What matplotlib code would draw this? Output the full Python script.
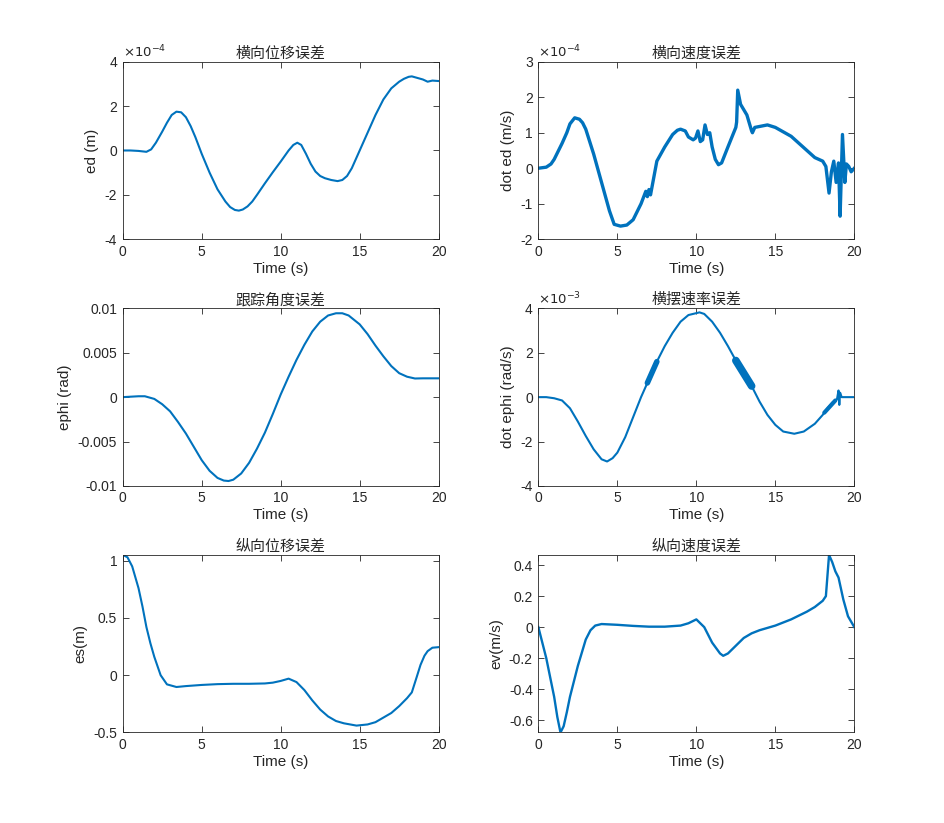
import matplotlib
matplotlib.use('Agg')
import matplotlib.pyplot as plt
import numpy as np

plt.rcParams['font.family'] = ['Liberation Sans', 'Noto Sans CJK SC', 'DejaVu Sans']
plt.rcParams['axes.unicode_minus'] = False

# ---- data ----
# 横向位移误差 ed, in units of 1e-4 m
t_ed = [0, 0.5, 1.0, 1.5, 1.8, 2.1, 2.5, 2.8, 3.1, 3.4, 3.7, 4.0, 4.3, 4.6, 5.0, 5.5, 6.0, 6.5, 6.8, 7.1,
        7.35, 7.6, 7.9, 8.2, 8.5, 9.0, 9.5, 10.0, 10.5, 10.8, 11.05, 11.3, 11.6, 11.9, 12.2, 12.5, 12.8,
        13.2, 13.6, 13.9, 14.2, 14.5, 15.0, 15.5, 16.0, 16.5, 17.0, 17.5, 17.8, 18.1, 18.3, 18.7, 19.0,
        19.3, 19.6, 20.0]
ed = [0.0, 0.0, -0.02, -0.06, 0.05, 0.35, 0.85, 1.25, 1.6, 1.75, 1.72, 1.5, 1.1, 0.6, -0.15, -1.0, -1.75,
      -2.3, -2.55, -2.68, -2.71, -2.66, -2.52, -2.3, -2.0, -1.48, -0.98, -0.5, 0.0, 0.25, 0.35, 0.25, -0.15,
      -0.6, -0.95, -1.15, -1.25, -1.33, -1.38, -1.33, -1.15, -0.8, 0.0, 0.8, 1.6, 2.3, 2.8, 3.1, 3.23, 3.32,
      3.34, 3.26, 3.2, 3.1, 3.15, 3.13]

# 横向速度误差 dot ed, in units of 1e-4 m/s
t_ded = [0, 0.5, 0.8, 1.0, 1.5, 1.8, 2.0, 2.3, 2.6, 2.8, 3.0, 3.5, 4.0, 4.5, 4.8, 5.2, 5.6, 6.0, 6.5, 6.8, 6.9,
         7.0, 7.1, 7.5, 8.0, 8.5, 8.8, 9.0, 9.3, 9.5, 9.8, 9.95, 10.1, 10.25, 10.4, 10.55, 10.7, 10.85, 11.0,
         11.2, 11.4, 11.6, 12.0, 12.5, 12.55, 12.62, 12.8, 13.2, 13.5, 13.55, 13.7, 14.5, 15.0, 16.0, 17.0,
         17.5, 18.0, 18.2, 18.4, 18.55, 18.7, 18.85, 19.0, 19.1, 19.25, 19.4, 19.5, 19.65, 19.8, 20.0]
ded = [0.0, 0.03, 0.12, 0.25, 0.7, 1.0, 1.25, 1.42, 1.38, 1.28, 1.1, 0.4, -0.4, -1.2, -1.58, -1.63, -1.6,
       -1.45, -1.0, -0.65, -0.8, -0.6, -0.75, 0.2, 0.6, 0.95, 1.07, 1.1, 1.05, 0.88, 0.8, 0.85, 1.05, 0.75, 0.8,
       1.22, 0.95, 1.0, 0.6, 0.25, 0.1, 0.15, 0.6, 1.15, 1.3, 2.2, 1.8, 1.5, 1.05, 1.0, 1.15, 1.22, 1.15, 0.9,
       0.5, 0.3, 0.2, 0.05, -0.7, -0.1, 0.2, -0.4, 0.15, -1.35, 0.95, -0.4, 0.12, 0.05, -0.1, 0.0]

# 跟踪角度误差 ephi (rad)
t_ephi = [0, 0.5, 1.0, 1.4, 2.0, 2.5, 3.0, 3.5, 4.0, 4.5, 5.0, 5.5, 6.0, 6.4, 6.7, 7.0, 7.5, 8.0, 8.5, 9.0,
          9.5, 10.0, 10.5, 11.0, 11.5, 12.0, 12.5, 13.0, 13.5, 13.9, 14.3, 15.0, 15.5, 16.0, 16.5, 17.0,
          17.5, 18.0, 18.5, 19.0, 20.0]
ephi = [0.0, 0.00005, 0.0001, 0.0001, -0.0002, -0.0008, -0.0016, -0.0028, -0.0041, -0.0056, -0.0071, -0.0083,
        -0.0091, -0.0094, -0.00945, -0.0093, -0.0086, -0.0074, -0.0058, -0.004,
        -0.0019, 0.0003, 0.0023, 0.0042, 0.0059, 0.0074, 0.0085, 0.0092, 0.00945, 0.00945, 0.0092, 0.0082,
        0.0071, 0.0058, 0.0046, 0.0035, 0.0027, 0.0023, 0.0021, 0.00212, 0.00212]

# 横摆速率误差 dot ephi, in units of 1e-3 rad/s
t_dephi = [0, 0.5, 1.0, 1.5, 2.0, 2.5, 3.0, 3.5, 4.0, 4.35, 4.7, 5.0, 5.5, 6.0, 6.5, 7.0, 7.5, 8.0, 8.5,
           9.0, 9.5, 10.2, 10.5, 11.0, 11.5, 12.0, 12.5, 13.0, 13.5, 14.0, 14.5, 15.0, 15.5, 16.2, 16.8,
           17.5, 18.0, 18.3, 18.6, 18.9, 19.0, 19.05, 19.1, 19.2, 19.5, 20.0]
dephi = [0.0, 0.0, -0.05, -0.15, -0.5, -1.1, -1.75, -2.35, -2.8, -2.9, -2.75, -2.5, -1.8, -0.9, 0.0, 0.8, 1.6,
         2.3, 2.9, 3.4, 3.7, 3.82, 3.75, 3.4, 2.9, 2.3, 1.65, 1.1, 0.5, -0.2, -0.8, -1.25, -1.55, -1.65, -1.55,
         -1.2, -0.8, -0.5, -0.25, -0.1, 0.3, -0.35, 0.2, 0.0, 0.0, 0.0]

# 纵向位移误差 es (m)
t_es = [0, 0.3, 0.6, 1.0, 1.25, 1.5, 1.75, 2.0, 2.4, 2.8, 3.4, 4.0, 5.0, 6.0, 7.0, 8.0, 9.0, 9.5, 10.0,
        10.5, 11.0, 11.5, 12.0, 12.5, 13.0, 13.5, 14.0, 14.8, 15.5, 16.0, 16.5, 17.0, 17.5, 18.0, 18.3,
        18.6, 18.85, 19.1, 19.3, 19.6, 20.0]
es = [1.05, 1.03, 0.95, 0.76, 0.6, 0.42, 0.28, 0.16, 0.0, -0.08, -0.103, -0.095, -0.085, -0.078, -0.075, -0.075,
      -0.072, -0.065, -0.05, -0.03, -0.06, -0.13, -0.22, -0.3, -0.36, -0.4, -0.42, -0.44, -0.43, -0.41, -0.37,
      -0.33, -0.27, -0.2, -0.15, -0.02, 0.09, 0.17, 0.21, 0.24, 0.245]

# 纵向速度误差 ev (m/s)
t_ev = [0, 0.5, 1.0, 1.2, 1.4, 1.6, 1.8, 2.0, 2.5, 3.0, 3.3, 3.6, 4.0, 5.0, 6.0, 7.0, 8.0, 9.0, 9.5, 10.0,
        10.5, 11.0, 11.5, 11.7, 12.0, 12.5, 13.0, 13.5, 14.0, 15.0, 16.0, 17.0, 17.5, 18.0, 18.2, 18.4,
        18.6, 18.8, 19.0, 19.3, 19.6, 20.0]
ev = [0.0, -0.2, -0.45, -0.58, -0.68, -0.64, -0.55, -0.45, -0.25, -0.08, -0.02, 0.01, 0.02, 0.015, 0.008,
      0.003, 0.003, 0.01, 0.025, 0.05, 0.0, -0.1, -0.17, -0.185, -0.17, -0.12, -0.07, -0.04, -0.02, 0.01,
      0.05, 0.1, 0.13, 0.17, 0.2, 0.466, 0.42, 0.36, 0.32, 0.18, 0.07, 0.0]

blue = '#0072BD'
txt = '#262626'

fig = plt.figure(figsize=(9.44, 8.23), dpi=100)
lefts = [0.13, 0.5703]
bottoms = [0.7093, 0.4096, 0.11]
w, h = 0.3347, 0.2157


def make_ax(col, row):
    ax = fig.add_axes([lefts[col], bottoms[row], w, h])
    ax.tick_params(direction='in', top=True, right=True, length=4, width=0.6,
                   colors=txt, labelsize=10, pad=4)
    for s in ax.spines.values():
        s.set_linewidth(0.6)
        s.set_color(txt)
    ax.set_xlim(0, 20)
    ax.set_xticks([0, 5, 10, 15, 20])
    ax.set_xlabel('Time (s)', fontsize=11, color=txt, labelpad=2)
    return ax


def title(ax, s):
    ax.set_title(s, fontsize=10.8, color=txt, pad=3, family=['Noto Sans CJK SC', 'DejaVu Sans'])


def expo(ax, s):
    ax.text(0.0, 1.008, s, transform=ax.transAxes, fontsize=9.5, color=txt, va='bottom', ha='left')


ax = make_ax(0, 0)
ax.plot(t_ed, ed, color=blue, lw=1.5)
ax.set_ylim(-4, 4)
ax.set_yticks([-4, -2, 0, 2, 4])
ax.set_ylabel('ed (m)', fontsize=11, color=txt)
title(ax, '横向位移误差')
expo(ax, r'$\times 10^{-4}$')

ax = make_ax(1, 0)
ax.plot(t_ded, ded, color=blue, lw=2.4)
ax.set_ylim(-2, 3)
ax.set_yticks([-2, -1, 0, 1, 2, 3])
ax.set_ylabel('dot ed (m/s)', fontsize=11, color=txt)
title(ax, '横向速度误差')
expo(ax, r'$\times 10^{-4}$')

ax = make_ax(0, 1)
ax.plot(t_ephi, ephi, color=blue, lw=1.5)
ax.set_ylim(-0.01, 0.01)
ax.set_yticks([-0.01, -0.005, 0, 0.005, 0.01])
ax.set_yticklabels(['-0.01', '-0.005', '0', '0.005', '0.01'])
ax.set_ylabel('ephi (rad)', fontsize=11, color=txt)
title(ax, '跟踪角度误差')

ax = make_ax(1, 1)
ax.plot(t_dephi, dephi, color=blue, lw=1.5)
# thick bands where the signal chatters
td = np.array(t_dephi)
yd = np.array(dephi)
for a, b, lw in [(6.9, 7.5, 4), (12.5, 13.5, 5.5), (18.1, 18.8, 3)]:
    tt = np.array([a, b])
    ax.plot(tt, np.interp(tt, td, yd), color=blue, lw=lw, solid_capstyle='round')
ax.set_ylim(-4, 4)
ax.set_yticks([-4, -2, 0, 2, 4])
ax.set_ylabel('dot ephi (rad/s)', fontsize=11, color=txt)
title(ax, '横摆速率误差')
expo(ax, r'$\times 10^{-3}$')

ax = make_ax(0, 2)
ax.plot(t_es, es, color=blue, lw=1.5)
ax.set_ylim(-0.5, 1.05)
ax.set_yticks([-0.5, 0, 0.5, 1])
ax.set_yticklabels(['-0.5', '0', '0.5', '1'])
ax.set_ylabel('es(m)', fontsize=11, color=txt)
title(ax, '纵向位移误差')

ax = make_ax(1, 2)
ax.plot(t_ev, ev, color=blue, lw=1.7)
ax.set_ylim(-0.68, 0.466)
ax.set_yticks([-0.6, -0.4, -0.2, 0, 0.2, 0.4])
ax.set_yticklabels(['-0.6', '-0.4', '-0.2', '0', '0.2', '0.4'])
ax.set_ylabel('ev(m/s)', fontsize=11, color=txt)
title(ax, '纵向速度误差')

fig.savefig('out.png', dpi=100)
